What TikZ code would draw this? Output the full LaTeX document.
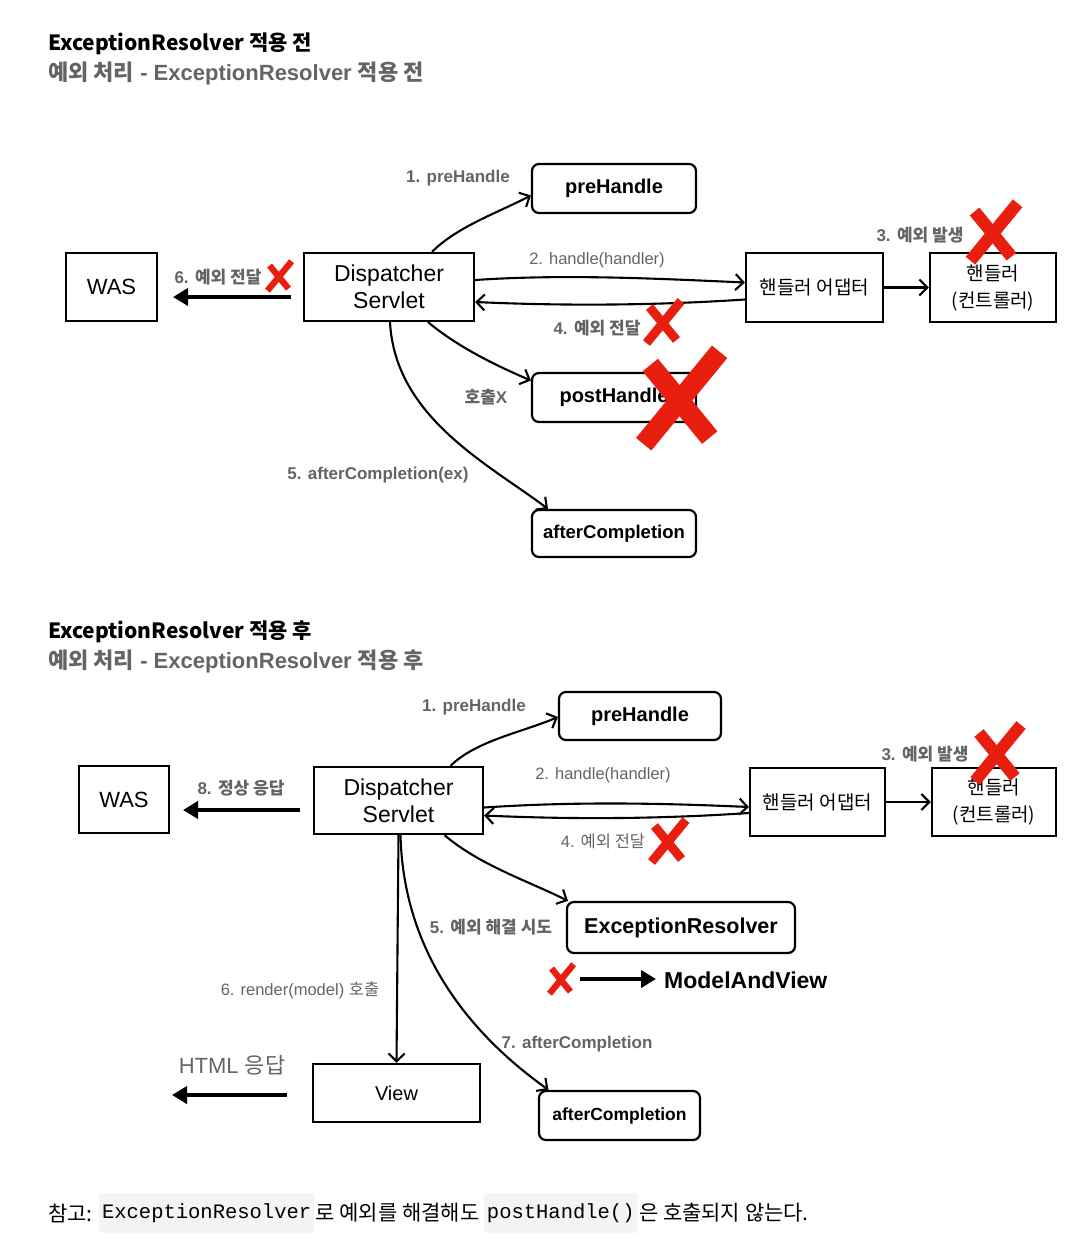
\documentclass[tikz,border=0pt]{standalone}
\usepackage{fontspec}
\setmainfont{Liberation Sans}
\setmonofont{Liberation Mono}
\newfontfamily\kr{Noto Sans CJK KR}
\usetikzlibrary{arrows.meta,positioning}
\definecolor{labelgray}{RGB}{100,100,100}
\definecolor{xred}{RGB}{232,30,14}
\definecolor{codebg}{RGB}{243,244,246}
\tikzset{
  box/.style={draw, line width=2.2pt, inner sep=0pt, align=center, font=\fontsize{22}{26}\selectfont},
  rbox/.style={box, rounded corners=7pt, font=\bfseries\fontsize{20}{24}\selectfont},
  lbl/.style={text=labelgray, inner sep=0pt, font=\fontsize{16.5}{19}\selectfont},
  blbl/.style={lbl, font=\bfseries\fontsize{17}{19}\selectfont},
  flow/.style={line width=2.1pt, -{Straight Barb[length=8pt,width=16pt,line width=2.1pt]}},
  bigarrow/.style={line width=4pt, -{Triangle[length=15pt,width=17pt]}},
  code/.style={fill=codebg, rounded corners=3pt, inner xsep=3pt, minimum height=40pt, font=\fontsize{20.5}{24}\ttfamily},
  note/.style={inner sep=0pt, font=\kr\fontsize{21}{24}\selectfont},
}
% red brush cross: x, y, scale
\newcommand{\redcross}[3]{%
  \begin{scope}[shift={(#1,#2)}, scale=#3]
    \draw[xred, line width=#3*6pt] (-11,14) -- (12,-14);
    \draw[xred, line width=#3*6pt] (-9,-10) -- (9,12);
  \end{scope}}
\begin{document}
\begin{tikzpicture}[x=1pt,y=-1pt]
    \useasboundingbox (0,0) rectangle (1084,1243);

    % Titles
    \node[anchor=west, inner sep=0pt, font=\kr\bfseries\fontsize{21}{24}\selectfont] (t1) at (48,44) {ExceptionResolver 적용 전};
    \node[anchor=west, inner sep=0pt, text=labelgray, font=\bfseries\fontsize{22}{26}\selectfont] (s1) at (48,73) {{\kr 예외 처리} - ExceptionResolver {\kr 적용 전}};

    % Draw nodes before ExceptionResolver
    \node[box, minimum width=91pt, minimum height=68pt] (was1) at (111.5,287) {WAS};
    \node[box, minimum width=170pt, minimum height=68pt, font=\fontsize{23}{27}\selectfont] (ds1) at (389,287) {Dispatcher\\Servlet};
    \node[rbox, minimum width=164pt, minimum height=49pt] (pre1) at (614,188.5) {preHandle};
    \node[box, minimum width=137pt, minimum height=69pt, font=\kr\fontsize{19}{23}\selectfont] (ada1) at (814.5,287.5) {핸들러 어댑터};
    \node[box, minimum width=126pt, minimum height=69pt, font=\kr\fontsize{19}{27}\selectfont] (ctl1) at (993,287.5) {핸들러\\(컨트롤러)};
    \node[rbox, minimum width=164pt, minimum height=49pt] (post1) at (614,397.5) {postHandle};
    \node[rbox, minimum width=164pt, minimum height=47pt, font=\bfseries\fontsize{18.5}{22}\selectfont] (after1) at (614,533.5) {afterCompletion};
    \coordinate (out1a) at (291,297);
    \coordinate (out1b) at (173,297);

    % Draw connectors
    \draw[flow] ([xshift=43pt]ds1.north) .. controls +(25,-25) and +(-35,18) .. ([yshift=-7pt]pre1.west);
    \draw[flow] ([yshift=7pt]ds1.east) .. controls +(90,-6) and +(-90,-4) .. ([yshift=5pt]ada1.west);
    \draw[flow] ([yshift=-12pt]ada1.west) .. controls +(-90,6) and +(90,4) .. ([yshift=-15pt]ds1.east);
    \draw[flow] (ada1.east) -- (ctl1.west);
    \draw[flow] ([xshift=39pt]ds1.south) .. controls +(30,25) and +(-35,-15) .. ([yshift=17pt]post1.west);
    \draw[flow] ([xshift=1pt]ds1.south) .. controls +(5,95) and +(-60,-45) .. ([xshift=-66pt]after1.north);
    \draw[bigarrow] (out1a) -- (out1b); % back to WAS

    % Labels
    \node[blbl] (l11) at (458,178) {1. preHandle};
    \node[lbl] (l12) at (597,260) {2. handle(handler)};
    \node[blbl] (l13) at (920,235) {3. {\kr 예외 발생}};
    \node[blbl] (l14) at (597,328) {4. {\kr 예외 전달}};
    \node[blbl] (l1x) at (486,397) {{\kr 호출}X};
    \node[blbl] (l15) at (378,475) {5. afterCompletion(ex)};
    \node[blbl] (l16) at (218,277) {6. {\kr 예외 전달}};

    % Titles
    \node[anchor=west, inner sep=0pt, font=\kr\bfseries\fontsize{21}{24}\selectfont] (t2) at (48,632) {ExceptionResolver 적용 후};
    \node[anchor=west, inner sep=0pt, text=labelgray, font=\bfseries\fontsize{22}{26}\selectfont] (s2) at (48,661) {{\kr 예외 처리} - ExceptionResolver {\kr 적용 후}};

    % Draw nodes after ExceptionResolver
    \node[box, minimum width=90pt, minimum height=67pt] (was2) at (124,799.5) {WAS};
    \node[box, minimum width=169pt, minimum height=67pt, font=\fontsize{23}{27}\selectfont] (ds2) at (398.5,800.5) {Dispatcher\\Servlet};
    \node[rbox, minimum width=162pt, minimum height=48pt] (pre2) at (640,716) {preHandle};
    \node[box, minimum width=135pt, minimum height=68pt, font=\kr\fontsize{19}{23}\selectfont] (ada2) at (817.5,802) {핸들러 어댑터};
    \node[box, minimum width=124pt, minimum height=68pt, font=\kr\fontsize{19}{27}\selectfont] (ctl2) at (994,802) {핸들러\\(컨트롤러)};
    \node[rbox, minimum width=228pt, minimum height=51pt, font=\bfseries\fontsize{21.5}{25}\selectfont] (res2) at (681,927.5) {ExceptionResolver};
    \node[box, minimum width=167pt, minimum height=58pt, font=\fontsize{20}{24}\selectfont] (view2) at (396.5,1093) {View};
    \node[rbox, minimum width=161pt, minimum height=49pt, font=\bfseries\fontsize{17.5}{21}\selectfont] (after2) at (619.5,1115.5) {afterCompletion};
    \node[anchor=west, inner sep=0pt, font=\bfseries\fontsize{23}{27}\selectfont] (mav) at (664,980) {ModelAndView};
    \coordinate (mav0) at (580,979);
    \coordinate (mav1) at (656,979);
    \coordinate (out2a) at (300,810);
    \coordinate (out2b) at (183,810);
    \coordinate (html2a) at (287,1095);
    \coordinate (html2b) at (172,1095);

    % Draw connectors
    \draw[flow] ([xshift=52pt]ds2.north) .. controls +(25,-25) and +(-35,15) .. ([yshift=-1pt]pre2.west);
    \draw[flow] ([yshift=-7pt]ds2.east) .. controls +(90,-6) and +(-90,-4) .. ([yshift=-5pt]ada2.west);
    \draw[flow] ([yshift=-11pt]ada2.west) .. controls +(-90,6) and +(90,4) .. ([yshift=-15pt]ds2.east);
    \draw[flow] (ada2.east) -- (ctl2.west);
    \draw[flow] ([xshift=46pt]ds2.south) .. controls +(35,30) and +(-40,-20) .. ([xshift=-113pt]res2.north);
    \draw[flow] (ds2.south) -- (view2.north);
    \draw[flow] ([xshift=2pt]ds2.south) .. controls +(3,125) and +(-70,-50) .. ([xshift=-71pt]after2.north);
    \draw[bigarrow] (mav0) -- (mav1); % to ModelAndView
    \draw[bigarrow] (out2a) -- (out2b); % back to WAS
    \draw[bigarrow] (html2a) -- (html2b);

    % Labels
    \node[blbl] (l21) at (474,707) {1. preHandle};
    \node[lbl] (l22) at (603,775) {2. handle(handler)};
    \node[blbl] (l23) at (925,754) {3. {\kr 예외 발생}};
    \node[lbl] (l24) at (603,841) {4. {\kr 예외 전달}};
    \node[blbl] (l25) at (491,927) {5. {\kr 예외 해결 시도}};
    \node[lbl] (l26) at (300,990) {6. render(model) {\kr 호출}};
    \node[blbl] (l27) at (577,1044) {7. afterCompletion};
    \node[blbl] (l28) at (241,788) {8. {\kr 정상 응답}};
    \node[lbl, font=\fontsize{22}{26}\selectfont] (l2h) at (232,1065) {HTML {\kr 응답}};

    % Red crosses
    \redcross{279}{276}{1.05}
    \redcross{663}{322}{1.5}
    \redcross{993}{232}{2.05}
    \redcross{680}{398}{3.3}
    \redcross{668}{841}{1.5}
    \redcross{997}{753}{2.0}
    \redcross{561}{979}{1.05}

    % Note
    \node[note, anchor=west] (n1) at (48,1213) {참고:};
    \node[code, right=6pt of n1] (c1) {ExceptionResolver};
    \node[note, right=1pt of c1] (n2) {로 예외를 해결해도};
    \node[code, right=4pt of n2] (c2) {postHandle()};
    \node[note, right=1pt of c2] (n3) {은 호출되지 않는다.};
\end{tikzpicture}
\end{document}
